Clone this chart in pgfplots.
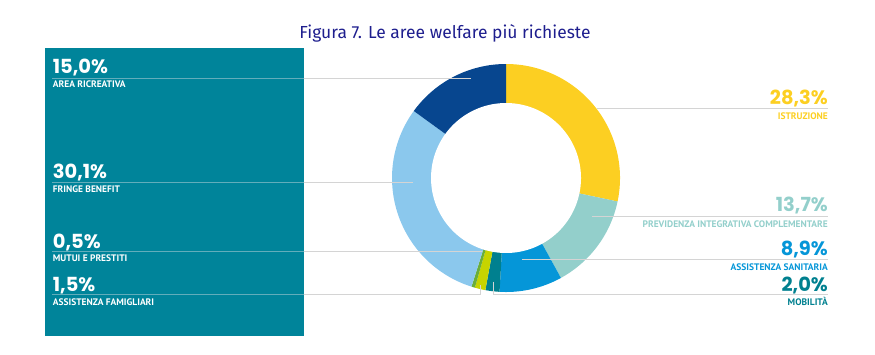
\documentclass[border=0pt]{standalone}
\usepackage{pgfplots}
\pgfplotsset{compat=1.18}
\usepackage{fontspec}
\setmainfont{Liberation Sans}
\newfontfamily\pop{Poppins}
\newfontfamily\lab{PT Sans}
\newfontfamily\ttl{Fira Sans}
\definecolor{panel}{HTML}{00849A}
\definecolor{cIstr}{HTML}{FCCF22}
\definecolor{cPrev}{HTML}{93CFCB}
\definecolor{cSan}{HTML}{0596D8}
\definecolor{cMob}{HTML}{00808F}
\definecolor{cFam}{HTML}{C6D400}
\definecolor{cMut}{HTML}{6AAE3A}
\definecolor{cFri}{HTML}{8BC8ED}
\definecolor{cRic}{HTML}{07468F}
\definecolor{ttlc}{HTML}{1E1E8E}
\definecolor{leader}{HTML}{D4D4D4}
\definecolor{leaderin}{HTML}{62ADBB}
% cumulative percentages, clockwise from the top
% Istruzione 28.3, Previdenza 13.7, Sanitaria 8.9, Mobilita 2.0,
% Famigliari 1.5, Mutui 0.5, Fringe 30.1, Ricreativa 15.0
\newcommand{\seg}[3]{%
  \addplot[fill=#1, draw=none, domain={90-3.6*#3}:{90-3.6*#2}, samples=80]
    ({506+114*cos(x)},{178-114*sin(x)}) -- (506,178) -- cycle;}
\newcommand{\bignum}{\pop\bfseries\fontsize{19.5}{19.5}\selectfont}
\newcommand{\smlab}{\lab\bfseries\fontsize{9.5}{10}\selectfont}
\begin{document}
\begin{tikzpicture}[x=1bp,y=1bp]
\path[use as bounding box] (0,0) rectangle (875,354);
\begin{axis}[at={(0,0)}, anchor=south west, scale only axis,
  width=875bp, height=354bp, xmin=0, xmax=875, ymin=0, ymax=354,
  y dir=reverse, hide axis, clip=false]
\fill[panel] (45,47.5) rectangle (304,336);
\seg{cIstr}{0}{28.3}
\seg{cPrev}{28.3}{42.0}
\seg{cSan}{42.0}{50.9}
\seg{cMob}{50.9}{52.9}
\seg{cFam}{52.9}{54.4}
\seg{cMut}{54.4}{54.9}
\seg{cFri}{54.9}{85.0}
\seg{cRic}{85.0}{100}
\addplot[fill=white, draw=none, domain=0:360, samples=160]
  ({506+75*cos(x)},{178-75*sin(x)}) -- cycle;
% leader lines
\draw[leaderin, line width=0.6] (52,78.3) -- (304,78.3);
\draw[leader, line width=0.6] (304,78.3) -- (471,78.3);
\draw[leaderin, line width=0.6] (52,182.7) -- (304,182.7);
\draw[leader, line width=0.6] (304,182.7) -- (413,182.7);
\draw[leaderin, line width=0.6] (52,251.5) -- (304,251.5);
\draw[leader, line width=0.6] (304,251.5) -- (482,251.5);
\draw[leaderin, line width=0.6] (52,294) -- (304,294);
\draw[leader, line width=0.6] (304,294) -- (480,294) -- (480,285);
\draw[leader, line width=0.6] (597,108.3) -- (828,108.3);
\draw[leader, line width=0.6] (592,216) -- (828,216);
\draw[leader, line width=0.6] (522,259) -- (828,259);
\draw[leader, line width=0.6] (493,281.7) -- (493,294.3) -- (828,294.3);
% title
\node[anchor=base, text=ttlc, font=\ttl\fontsize{17.5}{17.5}\selectfont] at (445,38) {Figura 7. Le aree welfare più richieste};
% left labels
\node[anchor=base west, inner sep=0, text=white, font=\bignum] at (52.7,73.3) {15,0\%};
\node[anchor=base west, inner sep=0, text=white, font=\smlab] at (52.7,87.7) {AREA RICREATIVA};
\node[anchor=base west, inner sep=0, text=white, font=\bignum] at (52.7,178.3) {30,1\%};
\node[anchor=base west, inner sep=0, text=white, font=\smlab] at (52.7,192.3) {FRINGE BENEFIT};
\node[anchor=base west, inner sep=0, text=white, font=\bignum] at (52.7,248.3) {0,5\%};
\node[anchor=base west, inner sep=0, text=white, font=\smlab] at (52.7,261.7) {MUTUI E PRESTITI};
\node[anchor=base west, inner sep=0, text=white, font=\bignum] at (52.7,291) {1,5\%};
\node[anchor=base west, inner sep=0, text=white, font=\smlab] at (52.7,305.3) {ASSISTENZA FAMIGLIARI};
% right labels
\node[anchor=base east, inner sep=0, text=cIstr, font=\bignum] at (828,104.3) {28,3\%};
\node[anchor=base east, inner sep=0, text=cIstr, font=\smlab] at (828,119) {ISTRUZIONE};
\node[anchor=base east, inner sep=0, text=cPrev, font=\bignum] at (828,211.7) {13,7\%};
\node[anchor=base east, inner sep=0, text=cPrev, font=\smlab] at (828,227.3) {PREVIDENZA INTEGRATIVA COMPLEMENTARE};
\node[anchor=base east, inner sep=0, text=cSan, font=\bignum] at (828,255.7) {8,9\%};
\node[anchor=base east, inner sep=0, text=cSan, font=\smlab] at (828,270) {ASSISTENZA SANITARIA};
\node[anchor=base east, inner sep=0, text=cMob, font=\bignum] at (828,291) {2,0\%};
\node[anchor=base east, inner sep=0, text=cMob, font=\smlab] at (828,305) {MOBILITÀ};
\end{axis}
\end{tikzpicture}
\end{document}
